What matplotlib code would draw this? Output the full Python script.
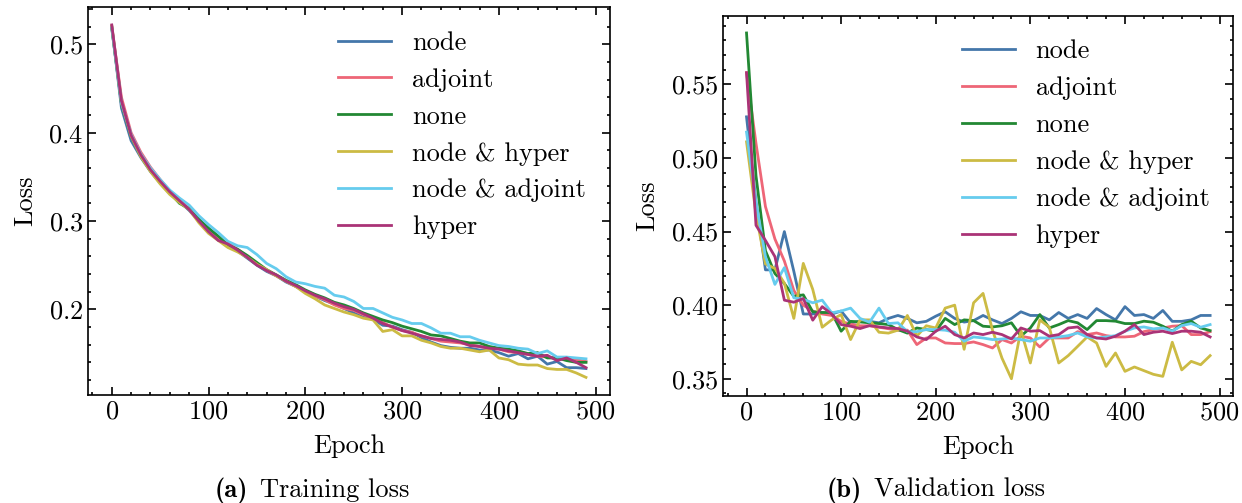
import matplotlib
matplotlib.use("Agg")
import matplotlib.pyplot as plt
from matplotlib.ticker import MultipleLocator

# datos: loss por epoca (cada 10 epocas)
epochs = list(range(0, 500, 10))
labels = ["node", "adjoint", "none", "node & hyper", "node & adjoint", "hyper"]
colors = ["#4477AA", "#EE6677", "#228833", "#CCBB44", "#66CCEE", "#AA3377"]

train_node = [0.520, 0.428, 0.391, 0.372, 0.356, 0.343, 0.331, 0.322, 0.312, 0.300,
              0.289, 0.280, 0.273, 0.266, 0.258, 0.250, 0.243, 0.238, 0.231, 0.226,
              0.220, 0.215, 0.210, 0.206, 0.201, 0.196, 0.191, 0.189, 0.182, 0.181,
              0.177, 0.174, 0.168, 0.163, 0.159, 0.157, 0.156, 0.156, 0.154, 0.154,
              0.151, 0.147, 0.150, 0.144, 0.147, 0.138, 0.141, 0.134, 0.134, 0.133]
train_adjoint = [0.520, 0.440, 0.400, 0.378, 0.361, 0.347, 0.334, 0.324, 0.314, 0.302,
                 0.290, 0.280, 0.275, 0.268, 0.260, 0.252, 0.244, 0.238, 0.232, 0.226,
                 0.221, 0.215, 0.211, 0.205, 0.201, 0.199, 0.194, 0.190, 0.185, 0.180,
                 0.176, 0.174, 0.170, 0.167, 0.164, 0.163, 0.162, 0.160, 0.158, 0.156,
                 0.155, 0.152, 0.151, 0.149, 0.147, 0.146, 0.145, 0.144, 0.143, 0.141]
train_none = [0.518, 0.433, 0.396, 0.374, 0.357, 0.344, 0.332, 0.320, 0.314, 0.302,
              0.292, 0.283, 0.273, 0.268, 0.261, 0.253, 0.245, 0.239, 0.233, 0.228,
              0.222, 0.217, 0.213, 0.208, 0.205, 0.201, 0.196, 0.192, 0.188, 0.185,
              0.181, 0.178, 0.175, 0.171, 0.170, 0.167, 0.164, 0.162, 0.162, 0.158,
              0.156, 0.155, 0.153, 0.150, 0.151, 0.145, 0.145, 0.142, 0.140, 0.140]
train_node_hyper = [0.521, 0.434, 0.396, 0.373, 0.356, 0.342, 0.330, 0.321, 0.313, 0.298,
                    0.286, 0.278, 0.270, 0.265, 0.259, 0.251, 0.245, 0.238, 0.232, 0.226,
                    0.218, 0.212, 0.205, 0.201, 0.197, 0.194, 0.190, 0.188, 0.175, 0.177,
                    0.170, 0.170, 0.165, 0.162, 0.158, 0.156, 0.156, 0.154, 0.152, 0.154,
                    0.145, 0.143, 0.138, 0.137, 0.137, 0.133, 0.132, 0.132, 0.128, 0.123]
train_node_adjoint = [0.519, 0.434, 0.398, 0.376, 0.360, 0.347, 0.335, 0.326, 0.318, 0.306,
                      0.296, 0.287, 0.277, 0.272, 0.270, 0.262, 0.252, 0.246, 0.237, 0.231,
                      0.229, 0.226, 0.224, 0.216, 0.214, 0.209, 0.201, 0.201, 0.196, 0.191,
                      0.188, 0.184, 0.184, 0.179, 0.173, 0.173, 0.169, 0.169, 0.165, 0.162,
                      0.159, 0.158, 0.156, 0.155, 0.150, 0.153, 0.146, 0.146, 0.145, 0.144]
train_hyper = [0.522, 0.436, 0.397, 0.375, 0.358, 0.345, 0.333, 0.323, 0.313, 0.300,
               0.288, 0.278, 0.274, 0.267, 0.259, 0.250, 0.244, 0.239, 0.232, 0.227,
               0.221, 0.216, 0.212, 0.207, 0.203, 0.200, 0.195, 0.190, 0.184, 0.180,
               0.176, 0.173, 0.170, 0.167, 0.166, 0.165, 0.163, 0.159, 0.158, 0.156,
               0.155, 0.153, 0.151, 0.149, 0.147, 0.148, 0.142, 0.145, 0.140, 0.134]

val_node = [0.528, 0.470, 0.424, 0.424, 0.450, 0.423, 0.394, 0.394, 0.395, 0.394,
            0.396, 0.388, 0.389, 0.389, 0.388, 0.391, 0.393, 0.391, 0.388, 0.389,
            0.3925, 0.3955, 0.391, 0.3885, 0.3895, 0.393, 0.390, 0.3875, 0.391, 0.3955,
            0.393, 0.393, 0.390, 0.395, 0.391, 0.3936, 0.391, 0.3977, 0.3936, 0.390,
            0.399, 0.393, 0.3936, 0.391, 0.3964, 0.389, 0.389, 0.390, 0.393, 0.393]
val_adjoint = [0.558, 0.510, 0.467, 0.445, 0.430, 0.410, 0.400, 0.396, 0.394, 0.393,
               0.389, 0.387, 0.386, 0.386, 0.385, 0.384, 0.383, 0.383, 0.3732, 0.3777,
               0.3777, 0.3743, 0.3739, 0.3739, 0.375, 0.3732, 0.3709, 0.3766, 0.3743, 0.3789,
               0.3777, 0.3716, 0.3777, 0.3777, 0.3777, 0.382, 0.380, 0.3811, 0.3793, 0.3784,
               0.3784, 0.3789, 0.382, 0.3834, 0.3845, 0.3857, 0.3861, 0.380, 0.380, 0.382]
val_none = [0.585, 0.488, 0.437, 0.4215, 0.4147, 0.406, 0.407, 0.3955, 0.395, 0.395,
            0.3823, 0.389, 0.3886, 0.388, 0.3875, 0.3868, 0.3834, 0.381, 0.3845, 0.3834,
            0.3823, 0.391, 0.3868, 0.390, 0.3895, 0.3857, 0.3852, 0.386, 0.388, 0.379,
            0.3845, 0.3936, 0.3845, 0.3868, 0.3895, 0.388, 0.3834, 0.3895, 0.3895, 0.3891,
            0.3875, 0.3875, 0.3891, 0.3884, 0.3857, 0.3823, 0.3868, 0.3891, 0.3845, 0.3827]
val_node_hyper = [0.511, 0.462, 0.428, 0.425, 0.415, 0.391, 0.4284, 0.4107, 0.385, 0.390,
                  0.3936, 0.3766, 0.390, 0.390, 0.3816, 0.381, 0.383, 0.393, 0.379, 0.386,
                  0.3845, 0.398, 0.400, 0.370, 0.4016, 0.408, 0.383, 0.364, 0.350, 0.383,
                  0.3607, 0.390, 0.385, 0.3607, 0.3657, 0.372, 0.3784, 0.3743, 0.3584, 0.3675,
                  0.355, 0.358, 0.3555, 0.353, 0.3516, 0.3748, 0.356, 0.3618, 0.3595, 0.3657]
val_node_adjoint = [0.5176, 0.470, 0.433, 0.4141, 0.4255, 0.405, 0.404, 0.4016, 0.4034, 0.3948,
                    0.396, 0.398, 0.391, 0.3884, 0.398, 0.3875, 0.388, 0.382, 0.382, 0.3834,
                    0.3834, 0.3830, 0.3816, 0.3755, 0.3784, 0.3777, 0.3766, 0.377, 0.3777, 0.3766,
                    0.3755, 0.3777, 0.3777, 0.3784, 0.3793, 0.3811, 0.3784, 0.3777, 0.3784, 0.3793,
                    0.3823, 0.3845, 0.3852, 0.3839, 0.3845, 0.3823, 0.3861, 0.3875, 0.385, 0.3868]
val_hyper = [0.558, 0.4543, 0.444, 0.433, 0.4034, 0.402, 0.4045, 0.3898, 0.399, 0.394,
             0.3868, 0.3857, 0.3841, 0.3861, 0.3852, 0.3845, 0.3841, 0.3823, 0.3784, 0.3766,
             0.3823, 0.3857, 0.380, 0.3777, 0.3811, 0.380, 0.3816, 0.380, 0.377, 0.3845,
             0.3823, 0.3827, 0.3789, 0.380, 0.3845, 0.3852, 0.380, 0.3777, 0.377, 0.3789,
             0.3823, 0.3868, 0.380, 0.3816, 0.3823, 0.3807, 0.3823, 0.3823, 0.3816, 0.3784]

train = [train_node, train_adjoint, train_none, train_node_hyper, train_node_adjoint, train_hyper]
val = [val_node, val_adjoint, val_none, val_node_hyper, val_node_adjoint, val_hyper]

# estilo tipo "science"
plt.rcParams['font.family'] = 'cmr10'
plt.rcParams['mathtext.fontset'] = 'cm'
plt.rcParams['axes.formatter.use_mathtext'] = True
plt.rcParams['font.size'] = 19
plt.rcParams['axes.linewidth'] = 1.2
plt.rcParams['legend.frameon'] = False

fig = plt.figure(figsize=(12.42, 5.03), dpi=100)
ax1 = fig.add_axes([0.0709, 0.2147, 0.4200, 0.7708])
ax2 = fig.add_axes([0.5824, 0.2127, 0.4106, 0.7561])

for ax, datos, step in [(ax1, train, 0.1), (ax2, val, 0.05)]:
    for y, lab, c in zip(datos, labels, colors):
        ax.plot(epochs, y, color=c, lw=2.0, label=lab)
    ax.set_xlabel("Epoch", labelpad=8)
    ax.set_ylabel("Loss", labelpad=8)
    ax.xaxis.set_major_locator(MultipleLocator(100))
    ax.xaxis.set_minor_locator(MultipleLocator(20))
    ax.yaxis.set_major_locator(MultipleLocator(step))
    ax.yaxis.set_minor_locator(MultipleLocator(step / 5))
    ax.tick_params(which='both', direction='in', top=True, right=True, width=1.2)
    ax.tick_params(which='major', length=5.5)
    ax.tick_params(which='minor', length=2.5)
    ax.legend(loc='upper right')

# subtitulos: "(a)" en negrita + texto normal, centrados
fig.canvas.draw()
r = fig.canvas.get_renderer()
for cx, tag, txt in [(312, "(a)", "Training loss"), (936, "(b)", "Validation loss")]:
    t1 = fig.text(0, 0.012, tag, family='cmb10', va='baseline')
    t2 = fig.text(0, 0.012, txt, va='baseline')
    w1 = t1.get_window_extent(r).width
    w2 = t2.get_window_extent(r).width
    gap = 12
    x0 = cx - (w1 + gap + w2) / 2
    t1.set_x(x0 / 1242)
    t2.set_x((x0 + w1 + gap) / 1242)

plt.savefig("out.png", dpi=100)
